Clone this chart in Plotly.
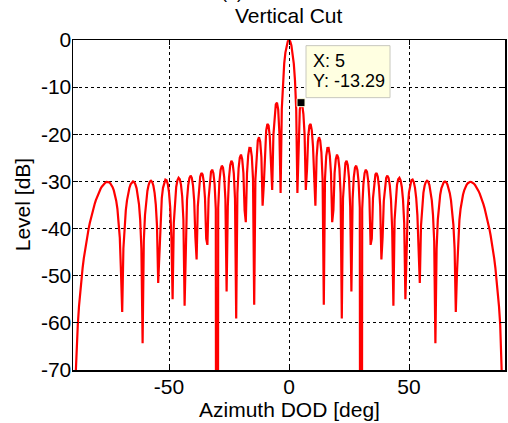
import plotly.graph_objects as go

# Azimuth samples (deg), 0.5 deg spacing as in the source plot
azimuth_deg = [
    -90, -89.5, -89, -88.5, -88, -87.5, -87, -86.5, -86, -85.5,
    -85, -84.5, -84, -83.5, -83, -82.5, -82, -81.5, -81, -80.5,
    -80, -79.5, -79, -78.5, -78, -77.5, -77, -76.5, -76, -75.5,
    -75, -74.5, -74, -73.5, -73, -72.5, -72, -71.5, -71, -70.5,
    -70, -69.5, -69, -68.5, -68, -67.5, -67, -66.5, -66, -65.5,
    -65, -64.5, -64, -63.5, -63, -62.5, -62, -61.5, -61, -60.5,
    -60, -59.5, -59, -58.5, -58, -57.5, -57, -56.5, -56, -55.5,
    -55, -54.5, -54, -53.5, -53, -52.5, -52, -51.5, -51, -50.5,
    -50, -49.5, -49, -48.5, -48, -47.5, -47, -46.5, -46, -45.5,
    -45, -44.5, -44, -43.5, -43, -42.5, -42, -41.5, -41, -40.5,
    -40, -39.5, -39, -38.5, -38, -37.5, -37, -36.5, -36, -35.5,
    -35, -34.5, -34, -33.5, -33, -32.5, -32, -31.5, -31, -30.5,
    -30, -29.5, -29, -28.5, -28, -27.5, -27, -26.5, -26, -25.5,
    -25, -24.5, -24, -23.5, -23, -22.5, -22, -21.5, -21, -20.5,
    -20, -19.5, -19, -18.5, -18, -17.5, -17, -16.5, -16, -15.5,
    -15, -14.5, -14, -13.5, -13, -12.5, -12, -11.5, -11, -10.5,
    -10, -9.5, -9, -8.5, -8, -7.5, -7, -6.5, -6, -5.5,
    -5, -4.5, -4, -3.5, -3, -2.5, -2, -1.5, -1, -0.5,
    0, 0.5, 1, 1.5, 2, 2.5, 3, 3.5, 4, 4.5,
    5, 5.5, 6, 6.5, 7, 7.5, 8, 8.5, 9, 9.5,
    10, 10.5, 11, 11.5, 12, 12.5, 13, 13.5, 14, 14.5,
    15, 15.5, 16, 16.5, 17, 17.5, 18, 18.5, 19, 19.5,
    20, 20.5, 21, 21.5, 22, 22.5, 23, 23.5, 24, 24.5,
    25, 25.5, 26, 26.5, 27, 27.5, 28, 28.5, 29, 29.5,
    30, 30.5, 31, 31.5, 32, 32.5, 33, 33.5, 34, 34.5,
    35, 35.5, 36, 36.5, 37, 37.5, 38, 38.5, 39, 39.5,
    40, 40.5, 41, 41.5, 42, 42.5, 43, 43.5, 44, 44.5,
    45, 45.5, 46, 46.5, 47, 47.5, 48, 48.5, 49, 49.5,
    50, 50.5, 51, 51.5, 52, 52.5, 53, 53.5, 54, 54.5,
    55, 55.5, 56, 56.5, 57, 57.5, 58, 58.5, 59, 59.5,
    60, 60.5, 61, 61.5, 62, 62.5, 63, 63.5, 64, 64.5,
    65, 65.5, 66, 66.5, 67, 67.5, 68, 68.5, 69, 69.5,
    70, 70.5, 71, 71.5, 72, 72.5, 73, 73.5, 74, 74.5,
    75, 75.5, 76, 76.5, 77, 77.5, 78, 78.5, 79, 79.5,
    80, 80.5, 81, 81.5, 82, 82.5, 83, 83.5, 84, 84.5,
    85, 85.5, 86, 86.5, 87, 87.5, 88, 88.5, 89, 89.5,
    90,
]

# Level (dB); nulls at +/-30 and +/-90 go far below the axis
level_db = [
    -300, -84.48, -72.44, -65.40, -60.39, -56.52, -53.35, -50.68, -48.37, -46.33,
    -44.52, -42.89, -41.41, -40.07, -38.83, -37.70, -36.66, -35.71, -34.83, -34.03,
    -33.30, -32.65, -32.06, -31.55, -31.11, -30.74, -30.45, -30.24, -30.12, -30.10,
    -30.18, -30.38, -30.72, -31.22, -31.91, -32.84, -34.09, -35.79, -38.20, -41.92,
    -49.24, -57.68, -44.22, -39.21, -36.14, -34.02, -32.49, -31.38, -30.62, -30.17,
    -30.01, -30.15, -30.62, -31.47, -32.82, -34.88, -38.16, -44.34, -64.31, -42.64,
    -37.12, -34.01, -32.03, -30.77, -30.06, -29.84, -30.11, -30.92, -32.42, -34.93,
    -39.43, -51.55, -44.89, -37.20, -33.51, -31.36, -30.12, -29.61, -29.75, -30.59,
    -32.33, -35.50, -42.04, -55.01, -38.80, -33.83, -31.18, -29.76, -29.23, -29.53,
    -30.73, -33.20, -38.13, -56.37, -40.25, -33.90, -30.84, -29.27, -28.77, -29.23,
    -30.82, -34.14, -41.87, -46.56, -35.30, -31.10, -29.01, -28.22, -28.54, -30.08,
    -33.53, -42.11, -43.46, -33.66, -29.80, -27.98, -27.50, -28.26, -30.57, -35.83,
    -300, -35.58, -30.08, -27.57, -26.66, -27.09, -29.07, -33.76, -53.34, -35.30,
    -29.24, -26.56, -25.62, -26.10, -28.27, -33.63, -59.07, -32.48, -27.24, -24.93,
    -24.32, -25.27, -28.18, -36.12, -38.66, -28.32, -24.47, -22.89, -22.91, -24.67,
    -29.40, -56.15, -29.56, -23.82, -21.31, -20.62, -21.59, -24.88, -35.13, -30.77,
    -22.57, -19.16, -17.82, -18.15, -20.52, -27.52, -31.79, -20.11, -15.71, -13.67,
    -13.29, -14.76, -19.83, -32.47, -14.61, -8.62, -5.03, -2.67, -1.14, -0.28,
    0.00, -0.28, -1.14, -2.67, -5.03, -8.62, -14.61, -32.47, -19.83, -14.76,
    -13.29, -13.67, -15.71, -20.11, -31.79, -27.52, -20.52, -18.15, -17.82, -19.16,
    -22.57, -30.77, -35.13, -24.88, -21.59, -20.62, -21.31, -23.82, -29.56, -56.15,
    -29.40, -24.67, -22.91, -22.89, -24.47, -28.32, -38.66, -36.12, -28.18, -25.27,
    -24.32, -24.93, -27.24, -32.48, -59.07, -33.63, -28.27, -26.10, -25.62, -26.56,
    -29.24, -35.30, -53.34, -33.76, -29.07, -27.09, -26.66, -27.57, -30.08, -35.58,
    -300, -35.83, -30.57, -28.26, -27.50, -27.98, -29.80, -33.66, -43.46, -42.11,
    -33.53, -30.08, -28.54, -28.22, -29.01, -31.10, -35.30, -46.56, -41.87, -34.14,
    -30.82, -29.23, -28.77, -29.27, -30.84, -33.90, -40.25, -56.37, -38.13, -33.20,
    -30.73, -29.53, -29.23, -29.76, -31.18, -33.83, -38.80, -55.01, -42.04, -35.50,
    -32.33, -30.59, -29.75, -29.61, -30.12, -31.36, -33.51, -37.20, -44.89, -51.55,
    -39.43, -34.93, -32.42, -30.92, -30.11, -29.84, -30.06, -30.77, -32.03, -34.01,
    -37.12, -42.64, -64.31, -44.34, -38.16, -34.88, -32.82, -31.47, -30.62, -30.15,
    -30.01, -30.17, -30.62, -31.38, -32.49, -34.02, -36.14, -39.21, -44.22, -57.68,
    -49.24, -41.92, -38.20, -35.79, -34.09, -32.84, -31.91, -31.22, -30.72, -30.38,
    -30.18, -30.10, -30.12, -30.24, -30.45, -30.74, -31.11, -31.55, -32.06, -32.65,
    -33.30, -34.03, -34.83, -35.71, -36.66, -37.70, -38.83, -40.07, -41.41, -42.89,
    -44.52, -46.33, -48.37, -50.68, -53.35, -56.52, -60.39, -65.40, -72.44, -84.48,
    -300,
]

# Data tip
tip_x = [5]
tip_y = [-13.29]

x_tick_vals = [-50, 0, 50]
x_tick_text = ["-50", "0", "50"]
y_tick_vals = [0, -10, -20, -30, -40, -50, -60, -70]
y_tick_text = ["0", "-10", "-20", "-30", "-40", "-50", "-60", "-70"]

FONT = "Liberation Sans, Arial, sans-serif"

fig = go.Figure()
fig.add_trace(go.Scatter(
    x=azimuth_deg, y=level_db, mode="lines",
    line=dict(color="#FF0000", width=2.2),
    showlegend=False, hoverinfo="skip",
))
fig.add_trace(go.Scatter(
    x=tip_x, y=tip_y, mode="markers",
    marker=dict(symbol="square", size=8, color="black",
                line=dict(color="#FFFFE0", width=1)),
    showlegend=False, hoverinfo="skip", cliponaxis=False,
))

axis_common = dict(
    showline=True, linecolor="black", linewidth=1.5, mirror="ticks",
    ticks="inside", ticklen=5, tickcolor="black", tickwidth=1,
    showgrid=True, gridcolor="black", gridwidth=1, griddash="dot",
    zeroline=False, tickfont=dict(family=FONT, size=21, color="black"),
    fixedrange=True,
)

fig.update_layout(
    width=508, height=423,
    margin=dict(l=73, r=1, t=40, b=53, pad=0),
    paper_bgcolor="white", plot_bgcolor="white",
    xaxis=dict(range=[-90, 90], tickvals=x_tick_vals, ticktext=x_tick_text,
               ticklabelstandoff=-3, **axis_common),
    yaxis=dict(range=[-70, 0], tickvals=y_tick_vals, ticktext=y_tick_text,
               ticklabelstandoff=-4, **axis_common),
    showlegend=False,
)

# Data-tip box anchored to the tip point (pixel offsets)
fig.add_shape(
    type="rect", xref="x", yref="y",
    xsizemode="pixel", ysizemode="pixel",
    xanchor=tip_x[0], yanchor=tip_y[0],
    x0=5, x1=89, y0=5, y1=57,
    fillcolor="#FFFFE1", line=dict(color="#C8C8BE", width=1),
    layer="above",
)
fig.add_annotation(x=tip_x[0], y=tip_y[0], xref="x", yref="y", text="X: 5",
                   showarrow=False, xanchor="left", yanchor="middle",
                   xshift=10, yshift=42, font=dict(family=FONT, size=18, color="black"))
fig.add_annotation(x=tip_x[0], y=tip_y[0], xref="x", yref="y", text="Y: -13.29",
                   showarrow=False, xanchor="left", yanchor="middle",
                   xshift=10, yshift=22, font=dict(family=FONT, size=18, color="black"))

# Titles
fig.add_annotation(x=0.5, y=(370 - 16) / 330, xref="paper", yref="paper",
                   text="Vertical Cut", showarrow=False, xanchor="center", yanchor="middle",
                   font=dict(family=FONT, size=21, color="black"))
fig.add_annotation(x=0.5, y=(370 - 410) / 330, xref="paper", yref="paper",
                   text="Azimuth DOD [deg]", showarrow=False, xanchor="center", yanchor="middle",
                   font=dict(family=FONT, size=21, color="black"))
fig.add_annotation(x=(22 - 73) / 434, y=0.5, xref="paper", yref="paper",
                   text="Level [dB]", showarrow=False, textangle=-90,
                   xanchor="center", yanchor="middle",
                   font=dict(family=FONT, size=21, color="black"))
# Partially cropped panel label at the very top of the figure
fig.add_annotation(x=(233 - 73) / 434, y=(370 - 4) / 330, xref="paper", yref="paper",
                   text="(b)", showarrow=False, xanchor="center", yanchor="bottom",
                   font=dict(family=FONT, size=18, color="black"))

# Remove the default page margin so the figure sits at the window's top-left corner
fig.write_html("out.html",
               config={"displayModeBar": False, "staticPlot": True},
               post_script="document.body.style.margin='0';document.body.style.overflow='hidden';")
